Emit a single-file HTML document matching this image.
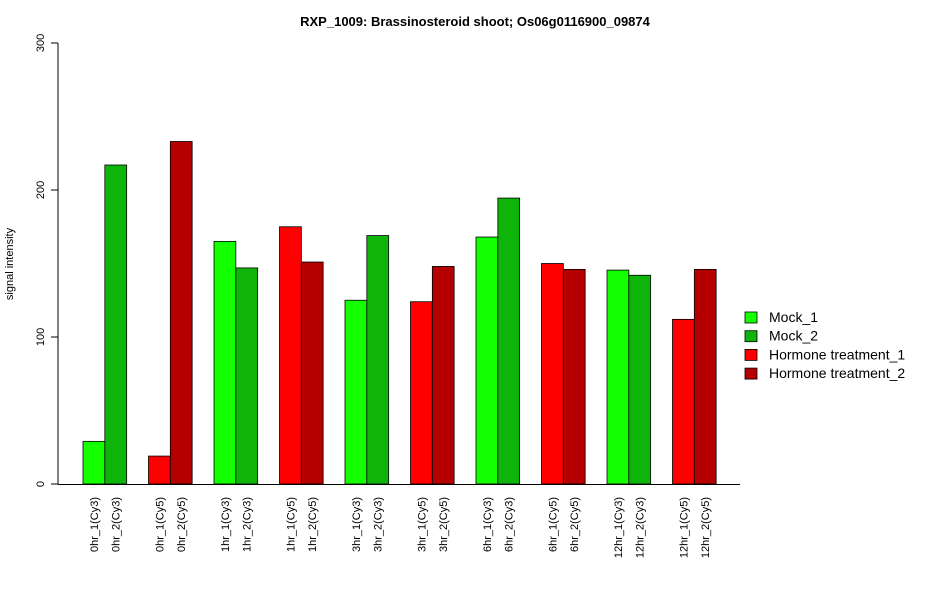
<!DOCTYPE html>
<html><head><meta charset="utf-8"><style>
body{margin:0;background:#fff}
svg{display:block;font-family:"Liberation Sans",Arial,sans-serif}
</style></head><body>
<svg id="chart" width="950" height="600">
<text x="475" y="26" text-anchor="middle" font-size="13" font-weight="bold">RXP_1009: Brassinosteroid shoot; Os06g0116900_09874</text>
<text transform="translate(13,264) rotate(-90)" text-anchor="middle" font-size="11">signal intensity</text>
<g id="axes"></g><g id="bars"></g><g id="xlabels"></g><g id="legend"></g>
</svg>
<script>
const categories=["0hr_1(Cy3)","0hr_2(Cy3)","0hr_1(Cy5)","0hr_2(Cy5)","1hr_1(Cy3)","1hr_2(Cy3)","1hr_1(Cy5)","1hr_2(Cy5)","3hr_1(Cy3)","3hr_2(Cy3)","3hr_1(Cy5)","3hr_2(Cy5)","6hr_1(Cy3)","6hr_2(Cy3)","6hr_1(Cy5)","6hr_2(Cy5)","12hr_1(Cy3)","12hr_2(Cy3)","12hr_1(Cy5)","12hr_2(Cy5)"];
const values=[29,217,19,233,165,147,175,151,125,169,124,148,168,194.5,150,146,145.5,142,112,146];
const seriesIdx=[0,1,2,3,0,1,2,3,0,1,2,3,0,1,2,3,0,1,2,3];
const seriesNames=["Mock_1","Mock_2","Hormone treatment_1","Hormone treatment_2"];
const seriesColors=["#14ff00","#0fb40a","#ff0000","#b40000"];
const yTicks=[0,100,200,300];
const NS="http://www.w3.org/2000/svg";
const y0=484,yTop=43,yMax=300;
const y=v=>y0-(v/yMax)*(y0-yTop);
const bw=21.83,period=65.5,x0=83;
const x=i=>x0+Math.floor(i/2)*period+(i%2)*bw;
function mk(t,a,p){const e=document.createElementNS(NS,t);for(const k in a)e.setAttribute(k,a[k]);p.appendChild(e);return e;}
const axes=document.getElementById('axes');
let l=mk('line',{x1:58,x2:58,y1:y(0),y2:y(300),stroke:'#000'},axes);


l=mk('line',{x1:58,x2:740,y1:y0+0.5,y2:y0+0.5,stroke:'#000'},axes);


yTicks.forEach(t=>{
 const tk=mk('line',{x1:51,x2:58,y1:y(t),y2:y(t),stroke:'#000'},axes);
 
 
 const tx=mk('text',{transform:`translate(44,${y(t)}) rotate(-90)`,'text-anchor':'middle','font-size':11},axes);
 tx.textContent=t;
 
 
});
const bars=document.getElementById('bars'),xl=document.getElementById('xlabels');
values.forEach((v,i)=>{
 const r=mk('rect',{x:x(i),y:y(v),width:bw,height:y0-y(v),fill:seriesColors[seriesIdx[i]],stroke:'#000','stroke-width':0.8},bars);
 
 
 const cx=x(i)+bw/2+4;
 const t=mk('text',{transform:`translate(${cx},497) rotate(-90)`,'text-anchor':'end','font-size':11},xl);
 t.textContent=categories[i];
 
 
});
const lg=document.getElementById('legend');
seriesNames.forEach((n,i)=>{
 const yy=317+i*18.7;
 const r=mk('rect',{x:745,y:yy-5,width:12,height:11,fill:seriesColors[i],stroke:'#000','stroke-width':0.8},lg);
 
 
 const t=mk('text',{x:769,y:yy+5,'font-size':14},lg);
 t.textContent=n;
 
 
});
</script>
</body></html>
